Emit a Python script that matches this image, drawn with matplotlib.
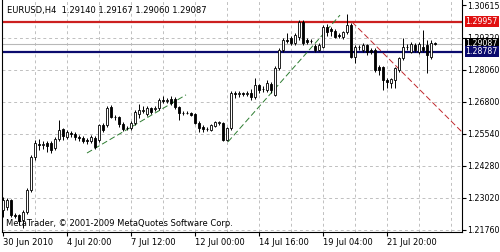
import matplotlib.pyplot as plt
import numpy as np

symbol = "EURUSD,H4"

# H4 candles (oldest first)
opens = [1.2255, 1.2266, 1.2294, 1.2235, 1.2235, 1.2215, 1.2247, 1.2333, 1.2463, 1.2515,
         1.2511, 1.2519, 1.2519, 1.2499, 1.2534, 1.2574, 1.2542, 1.2558, 1.2554, 1.2542,
         1.2538, 1.2530, 1.2527, 1.2538, 1.2530, 1.2590, 1.2590, 1.2660, 1.2621, 1.2621,
         1.2593, 1.2578, 1.2578, 1.2597, 1.2633, 1.2645, 1.2633, 1.2657, 1.2653, 1.2657,
         1.2688, 1.2684, 1.2692, 1.2692, 1.2660, 1.2637, 1.2637, 1.2637, 1.2633, 1.2597,
         1.2582, 1.2574, 1.2570, 1.2586, 1.2597, 1.2597, 1.2530, 1.2578, 1.2716, 1.2712,
         1.2716, 1.2712, 1.2716, 1.2700, 1.2747, 1.2731, 1.2727, 1.2751, 1.2708, 1.2814,
         1.2885, 1.2924, 1.2932, 1.2912, 1.2936, 1.2995, 1.2924, 1.2920, 1.2900, 1.2885,
         1.2896, 1.2975, 1.2967, 1.2959, 1.2944, 1.2936, 1.2955, 1.2983, 1.2857, 1.2896,
         1.2885, 1.2904, 1.2885, 1.2885, 1.2818, 1.2818, 1.2767, 1.2755, 1.2767, 1.2806,
         1.2853, 1.2896, 1.2877, 1.2904, 1.2877, 1.2896, 1.2904, 1.2857, 1.29140]
highs = [1.2306, 1.2302, 1.2298, 1.2243, 1.2239, 1.2255, 1.2341, 1.2471, 1.2530, 1.2534,
         1.2527, 1.2527, 1.2527, 1.2542, 1.2609, 1.2578, 1.2570, 1.2566, 1.2562, 1.2550,
         1.2546, 1.2538, 1.2550, 1.2546, 1.2593, 1.2597, 1.2664, 1.2668, 1.2629, 1.2625,
         1.2601, 1.2586, 1.2605, 1.2649, 1.2672, 1.2664, 1.2664, 1.2660, 1.2664, 1.2696,
         1.2704, 1.2696, 1.2704, 1.2700, 1.2664, 1.2645, 1.2645, 1.2641, 1.2637, 1.2605,
         1.2590, 1.2582, 1.2593, 1.2605, 1.2605, 1.2601, 1.2582, 1.2724, 1.2724, 1.2724,
         1.2720, 1.2724, 1.2731, 1.2775, 1.2751, 1.2743, 1.2767, 1.2759, 1.2822, 1.2892,
         1.2932, 1.2951, 1.2940, 1.2951, 1.3003, 1.3003, 1.2932, 1.2928, 1.2908, 1.2912,
         1.2983, 1.2987, 1.2975, 1.2967, 1.2951, 1.2959, 1.3026, 1.2991, 1.2904, 1.2904,
         1.2912, 1.2908, 1.2892, 1.2892, 1.2826, 1.2822, 1.2775, 1.2775, 1.2818, 1.2857,
         1.2932, 1.2908, 1.2916, 1.2912, 1.2916, 1.2963, 1.2924, 1.2924, 1.29167]
lows = [1.2227, 1.2255, 1.2227, 1.2223, 1.2196, 1.2184, 1.2239, 1.2326, 1.2452, 1.2491,
        1.2495, 1.2483, 1.2479, 1.2491, 1.2527, 1.2530, 1.2534, 1.2542, 1.2530, 1.2527,
        1.2519, 1.2515, 1.2519, 1.2495, 1.2523, 1.2562, 1.2582, 1.2617, 1.2609, 1.2582,
        1.2566, 1.2570, 1.2570, 1.2590, 1.2617, 1.2637, 1.2625, 1.2633, 1.2645, 1.2649,
        1.2676, 1.2676, 1.2668, 1.2653, 1.2609, 1.2629, 1.2633, 1.2625, 1.2593, 1.2562,
        1.2562, 1.2566, 1.2566, 1.2582, 1.2590, 1.2527, 1.2527, 1.2570, 1.2696, 1.2700,
        1.2704, 1.2704, 1.2688, 1.2692, 1.2716, 1.2720, 1.2720, 1.2716, 1.2704, 1.2806,
        1.2877, 1.2912, 1.2904, 1.2904, 1.2924, 1.2904, 1.2908, 1.2912, 1.2877, 1.2881,
        1.2892, 1.2940, 1.2940, 1.2932, 1.2932, 1.2928, 1.2948, 1.2853, 1.2834, 1.2885,
        1.2877, 1.2865, 1.2869, 1.2798, 1.2787, 1.2727, 1.2735, 1.2735, 1.2735, 1.2798,
        1.2845, 1.2885, 1.2873, 1.2877, 1.2869, 1.2877, 1.2794, 1.2849, 1.29060]
closes = [1.2294, 1.2294, 1.2235, 1.2231, 1.2211, 1.2247, 1.2333, 1.2463, 1.2519, 1.2511,
          1.2515, 1.2507, 1.2491, 1.2534, 1.2570, 1.2546, 1.2562, 1.2554, 1.2542, 1.2538,
          1.2527, 1.2527, 1.2542, 1.2503, 1.2590, 1.2570, 1.2657, 1.2621, 1.2620, 1.2593,
          1.2574, 1.2577, 1.2597, 1.2641, 1.2649, 1.2649, 1.2657, 1.2641, 1.2657, 1.2688,
          1.2684, 1.2688, 1.2676, 1.2660, 1.2637, 1.2636, 1.2638, 1.2629, 1.2597, 1.2578,
          1.2574, 1.2573, 1.2590, 1.2601, 1.2601, 1.2530, 1.2578, 1.2716, 1.2712, 1.2716,
          1.2712, 1.2716, 1.2700, 1.2747, 1.2727, 1.2730, 1.2755, 1.2727, 1.2814, 1.2885,
          1.2924, 1.2920, 1.2912, 1.2944, 1.2995, 1.2912, 1.2916, 1.2919, 1.2885, 1.2904,
          1.2975, 1.2955, 1.2959, 1.2936, 1.2940, 1.2955, 1.2983, 1.2857, 1.2896, 1.2895,
          1.2904, 1.2877, 1.2877, 1.2806, 1.2806, 1.2767, 1.2759, 1.2771, 1.2814, 1.2853,
          1.2896, 1.2895, 1.2908, 1.2885, 1.2908, 1.2885, 1.2865, 1.2912, 1.29087]

date_ticks = [0, 16, 32, 48, 64, 80, 96]
date_labels = ["30 Jun 2010", "4 Jul 20:00", "7 Jul 12:00", "12 Jul 00:00",
               "14 Jul 16:00", "19 Jul 04:00", "21 Jul 20:00"]
price_ticks = [1.30615, 1.29320, 1.28060, 1.26800, 1.25540, 1.24280, 1.23020, 1.21760]

resistance = 1.29957
support = 1.28787
bid = 1.29087

# trend lines: (bar, price) -> (bar, price)
green_lines = [((21, 1.2479), (45.75, 1.2708)),
               ((56.25, 1.2523), (84.25, 1.3022))]
red_line = ((87.25, 1.2995), (115.25, 1.2554))

fig = plt.figure(figsize=(5, 2.52), dpi=100)
ax = fig.add_axes([0.003, 0.0794, 0.921, 0.9187])

grid_col = "#c0c0c0"
for k in range(8, 115, 8):
    ax.axvline(k, color=grid_col, lw=0.7, ls=(0, (3, 3)), zorder=0)
for p in price_ticks[1:]:
    ax.axhline(p, color=grid_col, lw=0.7, ls=(0, (3, 3)), zorder=0)

ax.axhline(bid, color="#b8b8b8", lw=0.8, zorder=1)
ax.axhline(resistance, color="#cc1f1f", lw=1.6, zorder=1)
ax.axhline(support, color="#0b0b6e", lw=1.6, zorder=1)

for (x0, y0), (x1, y1) in green_lines:
    ax.plot([x0, x1], [y0, y1], color="#2e7d32", lw=0.7, ls=(0, (6, 3)), zorder=1)
ax.plot([red_line[0][0], red_line[1][0]], [red_line[0][1], red_line[1][1]],
        color="#c0282d", lw=0.7, ls=(0, (6, 3)), zorder=1)

w = 0.6
for i, (o, h, l, c) in enumerate(zip(opens, highs, lows, closes)):
    ax.vlines(i, l, h, color="black", lw=0.7, zorder=2)
    if abs(c - o) < 0.00006:
        ax.hlines(o, i - w / 2, i + w / 2, color="black", lw=0.7, zorder=3)
    else:
        fc = "white" if c > o else "black"
        ax.bar(i, abs(c - o), w, bottom=min(o, c), color=fc, edgecolor="black",
               linewidth=0.6, zorder=3)

ax.set_xlim(-0.375, 114.75)
ax.set_ylim(1.21681, 1.30796)

ax.spines["top"].set_visible(False)
for s in ["left", "right", "bottom"]:
    ax.spines[s].set_linewidth(0.8)

ax.yaxis.tick_right()
ax.set_yticks(price_ticks)
ax.set_yticklabels(["%.5f" % p for p in price_ticks])
ax.tick_params(axis="y", length=3, width=0.8, pad=0.5, labelsize=5.7)
ax.set_xticks(date_ticks)
ax.set_xticklabels(date_labels)
ax.tick_params(axis="x", length=3, width=0.8, pad=1.5, labelsize=6)
for lbl in ax.get_xticklabels():
    lbl.set_horizontalalignment("left")

for p, col in [(resistance, "#e01010"), (bid, "black"), (support, "#0b0b6e")]:
    ax.annotate("%.5f" % p, xy=(1, p), xycoords=("axes fraction", "data"),
                xytext=(2.6, 0), textcoords="offset points", ha="left", va="center",
                fontsize=5.7, color="white", annotation_clip=False, zorder=6,
                bbox=dict(boxstyle="square,pad=0.12", fc=col, ec="none"))

fig.text(7 / 500, 1 - 10 / 252, "%s  %.5f %.5f %.5f %.5f" % (symbol, opens[-1], highs[-1], lows[-1], closes[-1]),
         fontsize=6, va="center", ha="left")
fig.text(6 / 500, 1 - 223 / 252, "MetaTrader, \u00a9 2001-2009 MetaQuotes Software Corp.",
         fontsize=6, va="center", ha="left")

fig.savefig("out.png", dpi=100)
